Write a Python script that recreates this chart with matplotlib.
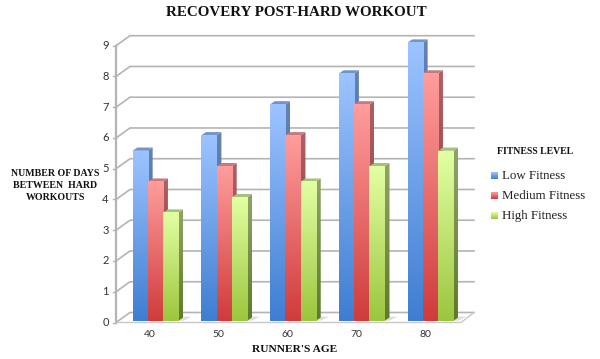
#!/usr/bin/env python3
"""Recovery post-hard workout: faux 3D grouped bars."""

import numpy as np
import matplotlib
matplotlib.use("Agg")
import matplotlib.pyplot as plt
from matplotlib.colors import LinearSegmentedColormap
from matplotlib.patches import Polygon

ages = ["40", "50", "60", "70", "80"]
low_fitness = [5.5, 6, 7, 8, 9]
medium_fitness = [4.5, 5, 6, 7, 8]
high_fitness = [3.5, 4, 4.5, 5, 5.5]
y_ticks = list(range(10))

SERIF = ["Liberation Serif", "DejaVu Serif"]
W, H = 600, 359

# pixel layout of the reference
X0, X_STEP = 155.5, 68.75
Y0, Y_STEP = 320.7, 30.9

# bottom colour, top colour, side bottom, side top, cap
STYLES = [
    ("#3f7ed2", "#9cc3ff", "#3d5f96", "#6482b4", "#6f93cc"),
    ("#d03c3c", "#ff9c9c", "#8a3434", "#ad6064", "#c67a7a"),
    ("#9cc63f", "#e2ffa2", "#5f7a2c", "#8fa468", "#a9c07a"),
]

fig = plt.figure(figsize=(W / 100, H / 100), dpi=100, facecolor="white")
ax = fig.add_axes([0, 0, 1, 1])
ax.axis("off")


def px(x):
    return (x - X0) / X_STEP


def dy(p):
    return p / Y_STEP


# walls
GRID = "#b4b4b4"
front_l, back_l, back_r = px(116), px(130), px(474)
front_r = px(461)
base = dy(-1.8)
lift = dy(10)
wall_step = (322.5 - 45.7) / 9 / Y_STEP
for v in y_ticks:
    y = base + v * wall_step
    ax.plot([front_l, back_l, back_r], [y, y + lift, y + lift], color=GRID, lw=1.2, zorder=1,
            solid_joinstyle="miter")
    ax.plot([front_l - 3 / X_STEP, front_l], [y, y], color=GRID, lw=1.0, zorder=1)
    ax.text(px(105.5), y, str(v), ha="center", va="center", fontsize=8, color="#333333",
            family="Lato")
ax.plot([front_l, front_l], [base, base + 9 * wall_step], color=GRID, lw=1.6, zorder=1)
ax.plot([front_l, front_r, back_r], [base, base, base + lift], color="#c8c8c8", lw=1.0, zorder=1)

# bars
BAR_W = 15.3 / X_STEP
DX, DY = 4.8 / X_STEP, dy(3.2)
series = [low_fitness, medium_fitness, high_fitness]


def grad_rect(x0, x1, y0, y1, c0, c1, z):
    cmap = LinearSegmentedColormap.from_list("g", [c0, c1])
    ax.imshow(np.linspace(1, 0, 64).reshape(-1, 1), extent=(x0, x1, y0, y1), cmap=cmap,
              aspect="auto", zorder=z, vmin=0, vmax=1, interpolation="bilinear")


for i in range(len(ages)):
    # floor shadow
    ax.add_patch(Polygon([(i - 1.5 * BAR_W, 0), (i + 1.5 * BAR_W + DX, 0),
                          (i + 1.5 * BAR_W + DX + 8 / X_STEP, dy(4)),
                          (i + 1.5 * BAR_W + DX, dy(4))],
                 closed=True, fc="#dddddd", ec="none", zorder=2))
    for j, values in enumerate(series):
        v = values[i]
        bottom, top_c, side_b, side_t, cap = STYLES[j]
        x0 = i + (j - 1.5) * BAR_W
        x1 = x0 + BAR_W
        z = 3 + j + i * 3
        # side face as gradient clipped to parallelogram
        cmap = LinearSegmentedColormap.from_list("s", [side_b, side_t])
        im = ax.imshow(np.linspace(1, 0, 64).reshape(-1, 1),
                       extent=(x1, x1 + DX, 0, v + DY), cmap=cmap, aspect="auto",
                       zorder=z, vmin=0, vmax=1, interpolation="bilinear")
        clip = Polygon([(x1, 0), (x1 + DX, DY), (x1 + DX, v + DY), (x1, v)], closed=True,
                       transform=ax.transData, fc="none", ec="none")
        ax.add_patch(clip)
        im.set_clip_path(clip)
        ax.add_patch(Polygon([(x0, v), (x1, v), (x1 + DX, v + DY), (x0 + DX, v + DY)],
                             closed=True, fc=cap, ec="none", zorder=z))
        grad_rect(x0, x1, 0, v, bottom, top_c, z + 0.5)

# tick labels
for i, age in enumerate(ages):
    ax.text(px(150 + i * X_STEP), dy(-14), age, ha="center", va="center", fontsize=7.5,
            color="#333333", family="Lato")


def label(xp, yp, s, **kw):
    ax.text(px(xp), dy(Y0 - yp), s, ha="center", va="center", family=SERIF, color="#111111", **kw)


label(296.5, 13, "RECOVERY POST-HARD WORKOUT", fontsize=10.8, fontweight="bold")
label(295, 349, "RUNNER'S AGE", fontsize=8.2, fontweight="bold")
label(55.5, 173, "NUMBER OF DAYS", fontsize=7.1, fontweight="bold")
label(55.5, 186, "BETWEEN  HARD", fontsize=7.1, fontweight="bold")
label(55.5, 198, "WORKOUTS", fontsize=7.1, fontweight="bold")
label(535, 152, "FITNESS LEVEL", fontsize=7, fontweight="bold")

# legend
names = ["Low Fitness", "Medium Fitness", "High Fitness"]
for (bottom, top_c, *_), name, yp in zip(STYLES, names, [176, 196, 216]):
    grad_rect(px(491), px(498), dy(Y0 - yp - 3.5), dy(Y0 - yp + 3.5), bottom, top_c, 40)
    ax.text(px(501.5), dy(Y0 - yp), name, ha="left", va="center", family=SERIF, fontsize=9.3,
            color="#222222")

ax.set_xlim((0 - X0) / X_STEP, (W - X0) / X_STEP)
ax.set_ylim((Y0 - H) / Y_STEP, Y0 / Y_STEP)

fig.savefig("out.png", dpi=100)
plt.close(fig)
